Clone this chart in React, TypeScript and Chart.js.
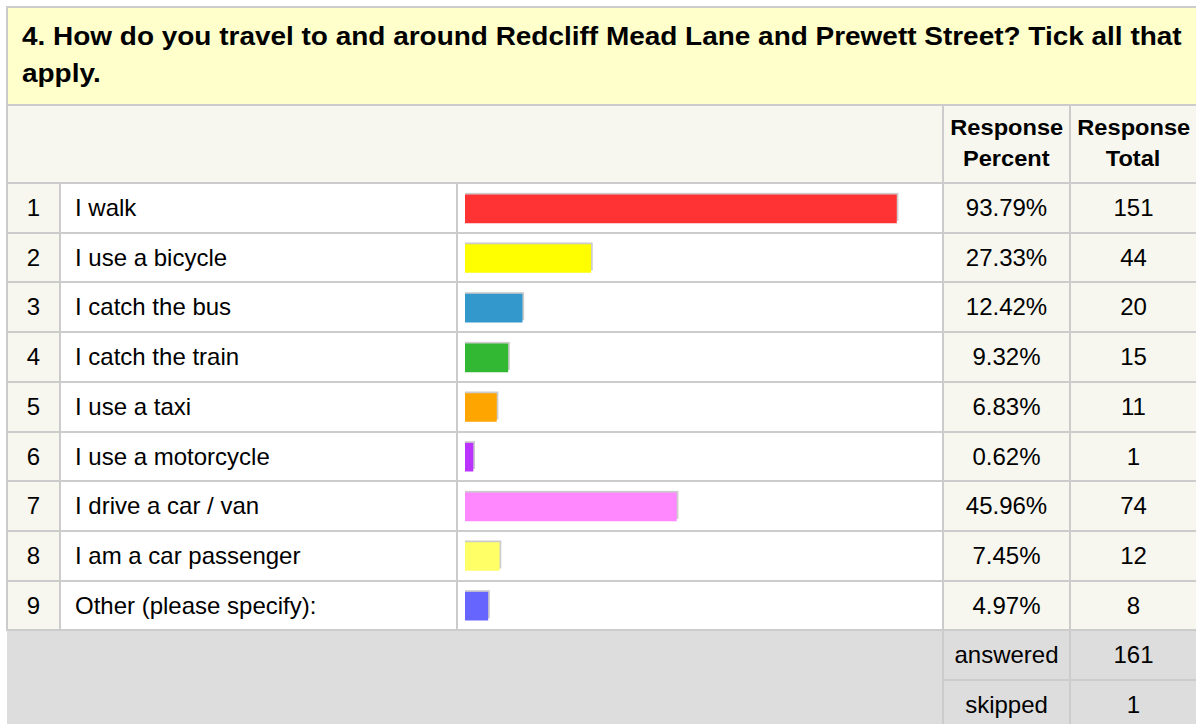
import React, { useEffect, useRef } from "react";
import { Chart, registerables } from "chart.js";

Chart.register(...registerables);

const questionTitle =
  "4. How do you travel to and around Redcliff Mead Lane and Prewett Street? Tick all that apply.";
const headerPercent = ["Response", "Percent"];
const headerTotal = ["Response", "Total"];
const categories = [
  "I walk",
  "I use a bicycle",
  "I catch the bus",
  "I catch the train",
  "I use a taxi",
  "I use a motorcycle",
  "I drive a car / van",
  "I am a car passenger",
  "Other (please specify):",
];
const responsePercent = [93.79, 27.33, 12.42, 9.32, 6.83, 0.62, 45.96, 7.45, 4.97];
const responseTotal = [151, 44, 20, 15, 11, 1, 74, 12, 8];
const summaryLabels = ["answered", "skipped"];
const summaryValues = [161, 1];
const barColors = [
  "#ff3333",
  "#ffff00",
  "#3399cc",
  "#33b833",
  "#ffa500",
  "#bb33ff",
  "#ff88ff",
  "#ffff66",
  "#6666ff",
];

const FONT = '"Liberation Sans", Arial, Helvetica, sans-serif';
const LINE = "#cccccc";
const CREAM = "#f7f7ef";
const YELLOW = "#ffffcc";
const FOOT = "#dddddd";

const lineYs = Array.from({ length: 10 }, (_, i) => Math.round(182 + i * 49.7));

const shadowPlugin = {
  id: "barShadow",
  beforeDatasetsDraw(chart: any) {
    const ctx = chart.ctx;
    const meta = chart.getDatasetMeta(0);
    ctx.save();
    ctx.fillStyle = LINE;
    meta.data.forEach((el: any) => {
      const p = el.getProps(["x", "y", "base", "height"], true);
      const left = Math.min(p.x, p.base);
      const w = Math.abs(p.x - p.base);
      ctx.fillRect(left, p.y - p.height / 2 - 2, w + 2, p.height);
    });
    ctx.restore();
  },
};

function BarChart() {
  const ref = useRef<HTMLCanvasElement | null>(null);
  useEffect(() => {
    if (!ref.current) return;
    const chart = new Chart(ref.current, {
      type: "bar",
      data: {
        labels: categories,
        datasets: [
          {
            data: responsePercent,
            backgroundColor: barColors,
            borderWidth: 0,
            barThickness: 28,
            minBarLength: 8,
          },
        ],
      },
      options: {
        indexAxis: "y",
        responsive: false,
        animation: false,
        layout: { padding: { left: 8, right: 17, top: 0, bottom: 0 } },
        plugins: { legend: { display: false }, tooltip: { enabled: false } },
        scales: {
          x: { display: false, min: 0, max: 100 },
          y: { display: false, grid: { display: false } },
        },
      },
      plugins: [shadowPlugin],
    } as any);
    return () => chart.destroy();
  }, []);
  return (
    <canvas
      ref={ref}
      width={485}
      height={447}
      style={{ position: "absolute", left: 457, top: 184, width: 485, height: 447 }}
    />
  );
}

const abs = (left: number, top: number, width: number, height: number, bg: string, extra: any = {}) => ({
  position: "absolute" as const,
  left,
  top,
  width,
  height,
  background: bg,
  ...extra,
});

const centerText = {
  display: "flex",
  alignItems: "center",
  justifyContent: "center",
  fontSize: 24,
  color: "#000",
};

const headStyle = {
  ...centerText,
  flexDirection: "column",
  fontWeight: "bold",
  fontSize: 22.5,
  lineHeight: "30.6px",
};

const wide = { display: "inline-block", transform: "scaleX(1.05)", whiteSpace: "nowrap" as const };

export default function App() {
  const rows = categories.map((c, i) => {
    const top = lineYs[i] + 2;
    const h = lineYs[i + 1] - top;
    return (
      <React.Fragment key={c}>
        <div style={abs(8, top, 51, h, CREAM, centerText)}>{i + 1}</div>
        <div style={abs(61, top, 395, h, "#fff", { ...centerText, justifyContent: "flex-start", paddingLeft: 14, boxSizing: "border-box" })}>{c}</div>
        <div style={abs(458, top, 484, h, "#fff")} />
        <div style={abs(944, top, 125, h, CREAM, centerText)}>{responsePercent[i].toFixed(2) + "%"}</div>
        <div style={abs(1071, top, 125, h, CREAM, centerText)}>{responseTotal[i]}</div>
        <div style={abs(8, lineYs[i + 1], 1188, 2, LINE)} />
      </React.Fragment>
    );
  });

  return (
    <div
      style={{
        position: "absolute",
        left: 0,
        top: 0,
        width: 1196,
        height: 724,
        overflow: "hidden",
        background: "#fff",
        fontFamily: FONT,
        color: "#000",
      }}
    >
      {/* outer border */}
      <div style={abs(6, 6, 1190, 2, LINE)} />
      <div style={abs(6, 6, 2, 625, LINE)} />
      {/* question header */}
      <div style={abs(8, 8, 1188, 96, YELLOW)}>
        <div
          style={{
            position: "absolute",
            left: 14,
            top: 10,
            width: 1050,
            fontSize: 25,
            fontWeight: "bold",
            lineHeight: "36.7px",
            transform: "scaleX(1.118)",
            transformOrigin: "left top",
          }}
        >
          {questionTitle}
        </div>
      </div>
      <div style={abs(8, 104, 1188, 2, LINE)} />
      {/* column header row */}
      <div style={abs(8, 106, 1188, 76, CREAM)} />
      <div style={abs(944, 106, 125, 76, CREAM, headStyle)}>
        <span style={wide}>{headerPercent[0]}</span>
        <span style={wide}>{headerPercent[1]}</span>
      </div>
      <div style={abs(1071, 106, 125, 76, CREAM, headStyle)}>
        <span style={wide}>{headerTotal[0]}</span>
        <span style={wide}>{headerTotal[1]}</span>
      </div>
      <div style={abs(942, 106, 2, 76, LINE)} />
      <div style={abs(1069, 106, 2, 76, LINE)} />
      <div style={abs(8, 182, 1188, 2, LINE)} />
      {/* body rows */}
      {rows}
      {/* vertical lines in body */}
      <div style={abs(59, 184, 2, 445, LINE)} />
      <div style={abs(456, 184, 2, 445, LINE)} />
      <div style={abs(942, 184, 2, 445, LINE)} />
      <div style={abs(1069, 184, 2, 445, LINE)} />
      {/* footer */}
      <div style={abs(7, 631, 1189, 93, FOOT)} />
      <div style={abs(942, 631, 2, 93, LINE)} />
      <div style={abs(1069, 631, 2, 93, LINE)} />
      <div style={abs(944, 679, 252, 2, LINE)} />
      <div style={abs(944, 631, 125, 48, FOOT, centerText)}>{summaryLabels[0]}</div>
      <div style={abs(1071, 631, 125, 48, FOOT, centerText)}>{summaryValues[0]}</div>
      <div style={abs(944, 681, 125, 48, FOOT, centerText)}>{summaryLabels[1]}</div>
      <div style={abs(1071, 681, 125, 48, FOOT, centerText)}>{summaryValues[1]}</div>
      <BarChart />
    </div>
  );
}
